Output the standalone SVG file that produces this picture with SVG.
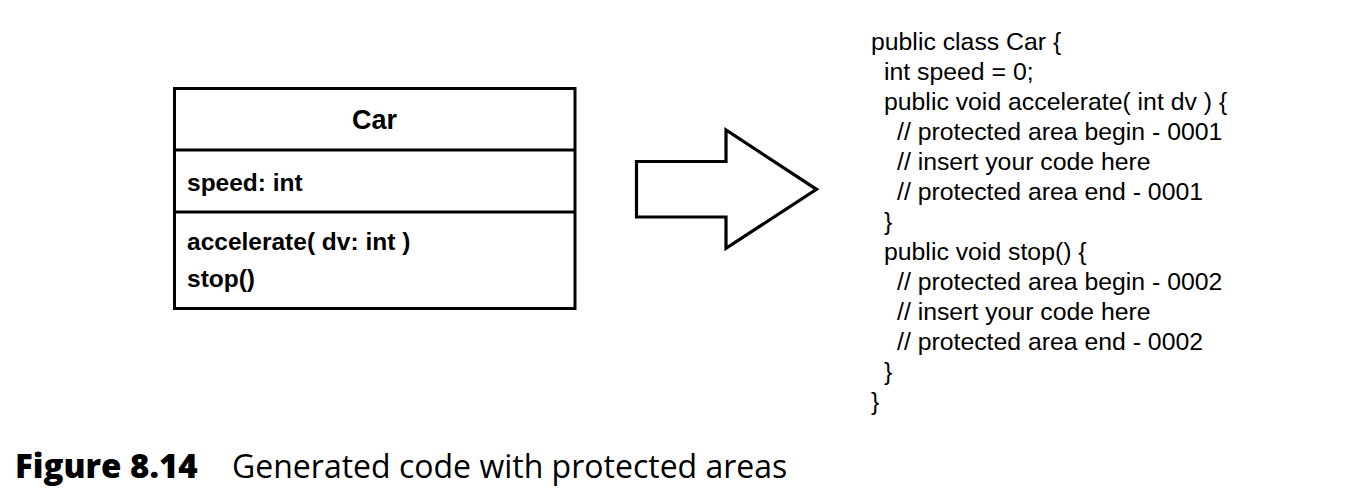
<svg xmlns="http://www.w3.org/2000/svg" width="1356" height="504" viewBox="0 0 1356 504">
  <style>
    .box { fill: #ffffff; stroke: #000000; stroke-width: 3; }
    .div { stroke: #000000; stroke-width: 3; }
    .cls { font-family: "Liberation Sans", Arial, sans-serif; font-weight: bold; fill: #000; }
    .code { font-family: "Liberation Sans", Arial, sans-serif; font-size: 24.8px; fill: #000; }
    .cap { font-family: "Open Sans", "Noto Sans", sans-serif; font-size: 32px; fill: #000; }
    .arrow { fill: #ffffff; stroke: #000000; stroke-width: 3.2; stroke-linejoin: miter; }
  </style>
  <rect width="1356" height="504" fill="#ffffff"/>

  <g id="class-car">
    <rect class="box" x="174.5" y="88.5" width="400.5" height="220"/>
    <line class="div" x1="174.5" y1="150" x2="575" y2="150"/>
    <line class="div" x1="174.5" y1="212" x2="575" y2="212"/>
    <text class="cls" x="374.5" y="129" font-size="27" text-anchor="middle">Car</text>
    <text class="cls" x="187" y="191" font-size="24.5">speed: int</text>
    <text class="cls" x="187" y="250" font-size="24.5">accelerate( dv: int )</text>
    <text class="cls" x="187" y="287" font-size="24.5">stop()</text>
  </g>

  <g id="connectors">
    <polygon id="transform-arrow" class="arrow" points="636.5,161.5 726,161.5 726,130 816.5,189.3 726,248.3 726,217 636.5,217"/>
  </g>

  <g id="generated-code" class="code">
    <text x="871" y="49.5">public class Car {</text>
    <text x="884" y="79.5">int speed = 0;</text>
    <text x="884" y="109.5">public void accelerate( int dv ) {</text>
    <text x="897" y="139.5">// protected area begin - 0001</text>
    <text x="897" y="169.5">// insert your code here</text>
    <text x="897" y="199.5">// protected area end - 0001</text>
    <text x="884" y="229.5">}</text>
    <text x="884" y="259.5">public void stop() {</text>
    <text x="897" y="289.5">// protected area begin - 0002</text>
    <text x="897" y="319.5">// insert your code here</text>
    <text x="897" y="349.5">// protected area end - 0002</text>
    <text x="884" y="379.5">}</text>
    <text x="871" y="409.5">}</text>
  </g>

  <g id="caption" class="cap">
    <text x="15" y="477.5" font-weight="800" font-size="33">Figure 8.14</text>
    <text x="232" y="477.5">Generated code with protected areas</text>
  </g>
</svg>
